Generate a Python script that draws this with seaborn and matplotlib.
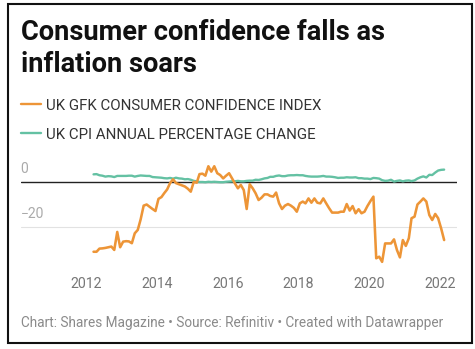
import numpy as np
import pandas as pd
import matplotlib
matplotlib.use("Agg")
import matplotlib.pyplot as plt
import matplotlib.dates as mdates
from matplotlib.lines import Line2D
import seaborn as sns

# ---- data (monthly) ----
start_month = "2012-03"
gfk_confidence = [
    -31, -31, -29.6, -29.5, -29.3, -29, -28.7, -30.2, -22.2, -29, -26.5, -26.3,
    -26.4, -27.2, -22.8, -21.3, -16.6, -10.5, -10, -11, -12, -12.9, -7.5, -6.7,
    -5, -3.3, -0.5, 1.2, -0.5, -1.0, -1.5, -2.0, -3, -4.3, 0.1, -0.3,
    3.5, 3.7, 2.8, 7, 4.6, 7, 3.9, 3.1, 1.6, 2.8, 3.9, 1.6,
    -0.6, -2.8, -1.3, -3.6, -12, -1, -2.8, -5, -8, -7, -5.5, -5.5,
    -6.2, -6.5, -4.7, -9.5, -12, -10.5, -9.8, -10.5, -11.5, -13.2, -9.5, -8.7,
    -9.5, -7.3, -9.2, -7.3, -9.2, -9.5, -7.3, -9.5, -11.7, -13.6, -13.6, -13.6,
    -13.2, -13.2, -9.8, -12.7, -10.7, -13.9, -12.1, -13.9, -13.2, -10.7, -8.5, -6.5,
    -33.9, -33.2, -35.5, -27.3, -27.3, -27.3, -25.5, -30.2, -33.5, -25.8, -28.4, -25,
    -16.1, -15.4, -10, -8.7, -7.3, -8.7, -14.7, -16.9, -14.2, -16.1, -20.6, -25.8,
]
cpi_change = [
    3.4, 3.5, 3.0, 2.8, 2.4, 2.6, 2.5, 2.2, 2.7, 2.7, 2.7,
    2.7, 2.8, 2.8, 2.4, 2.7, 2.9, 2.8, 2.7, 2.7, 2.2, 2.1, 2.0,
    1.9, 1.7, 1.6, 1.8, 1.5, 1.9, 1.6, 1.5, 1.2, 1.3, 1.0, 0.5,
    0.3, 0.0, 0.0, -0.1, 0.1, 0.0, 0.1, 0.0, -0.1, -0.1, 0.1, 0.2,
    0.3, 0.3, 0.5, 0.3, 0.3, 0.5, 0.6, 0.6, 1.0, 0.9, 1.2, 1.6,
    1.8, 2.3, 2.3, 2.7, 2.9, 2.6, 2.6, 2.9, 3.0, 3.0, 3.1, 3.0,
    3.0, 2.7, 2.5, 2.4, 2.4, 2.4, 2.5, 2.7, 2.4, 2.4, 2.3, 2.1,
    1.8, 1.9, 1.9, 2.1, 2.0, 2.0, 2.1, 1.7, 1.7, 1.5, 1.5, 1.3,
    1.8, 1.7, 1.5, 0.8, 0.5, 0.6, 1.0, 0.2, 0.5, 0.7, 0.3, 0.6,
    0.7, 0.4, 0.7, 1.5, 2.1, 2.5, 2.0, 3.2, 3.1, 4.2, 5.1, 5.4,
    5.5,
]
series_names = ["UK GFK CONSUMER CONFIDENCE INDEX", "UK CPI ANNUAL PERCENTAGE CHANGE"]
year_ticks = [2012, 2014, 2016, 2018, 2020, 2022]
y_ticks = [0, -20]

dates = pd.date_range(start=start_month, periods=len(gfk_confidence), freq="MS") + pd.Timedelta(days=14)
df = pd.DataFrame({"date": dates, "gfk": gfk_confidence, "cpi": cpi_change})

# ---- style ----
sns.set_style("white")
plt.rcParams["font.family"] = ["Roboto", "DejaVu Sans"]

ORANGE = "#ED9537"
GREEN = "#64C1A3"

W, H = 475, 349
fig = plt.figure(figsize=(W / 100, H / 100), dpi=100)

def fx(px):
    return px / W

def fy(py):
    return 1 - py / H

# axes placement (pixels): x 20.7..457, y 159.5..267.5
ax = fig.add_axes([fx(20.7), fy(267.5), fx(457) - fx(20.7), (267.5 - 159.5) / H])
ax.set_facecolor("none")

sns.lineplot(data=df, x="date", y="cpi", ax=ax, color=GREEN, linewidth=1.7, zorder=3)
sns.lineplot(data=df, x="date", y="gfk", ax=ax, color=ORANGE, linewidth=1.85, zorder=4)

ax.set_ylim(-38, 10)
ax.set_xlim(pd.Timestamp("2010-02-21"), pd.Timestamp("2022-06-28"))

# gridline and zero baseline
ax.axhline(-20, color="#e2e2e2", linewidth=0.8, zorder=1)
ax.axhline(0, color="#222222", linewidth=1.0, zorder=2)

# y labels above gridlines, inside the plot
for v in y_ticks:
    lab = "0" if v == 0 else "\u2212" + str(abs(v))
    ax.annotate(lab, xy=(0, v), xycoords=("axes fraction", "data"),
                xytext=(0, 4.3), textcoords="offset points",
                ha="left", va="bottom", fontsize=10, color="#aaaaaa")

ax.set_yticks([])
ax.set_xticks([pd.Timestamp(f"{y}-01-01") for y in year_ticks])
ax.set_xticklabels([str(y) for y in year_ticks])
ax.tick_params(axis="x", length=0, pad=6.5, labelsize=10.2, labelcolor="#777777")
ax.set_xlabel("")
ax.set_ylabel("")
for s in ax.spines.values():
    s.set_visible(False)

# ---- title ----
fig.text(fx(21), fy(40), "Consumer confidence falls as", fontsize=19.6,
         fontweight="bold", color="#111111", ha="left", va="baseline")
fig.text(fx(21), fy(72), "inflation soars", fontsize=19.6,
         fontweight="bold", color="#111111", ha="left", va="baseline")

# ---- legend ----
for name, col, py in [(series_names[0], ORANGE, 104.5), (series_names[1], GREEN, 133.3)]:
    fig.add_artist(Line2D([fx(20.5), fx(40.5)], [fy(py), fy(py)], color=col,
                          linewidth=1.7, transform=fig.transFigure))
    fig.text(fx(46), fy(py), name, fontsize=10.8, color="#333333",
             ha="left", va="center_baseline")

# ---- footer ----
fig.text(fx(21), fy(322), "Chart: Shares Magazine \u2022 Source: Refinitiv \u2022 Created with Datawrapper",
         fontsize=9.8, color="#8a8a8a", ha="left", va="center_baseline")

# ---- border ----
fig.add_artist(plt.Rectangle((fx(8.3), fy(343)), fx(471.7) - fx(8.3), (343 - 4.3) / H,
                             transform=fig.transFigure, fill=False,
                             edgecolor="#111111", linewidth=1.5))

fig.savefig("out.png", dpi=100, facecolor="white")
